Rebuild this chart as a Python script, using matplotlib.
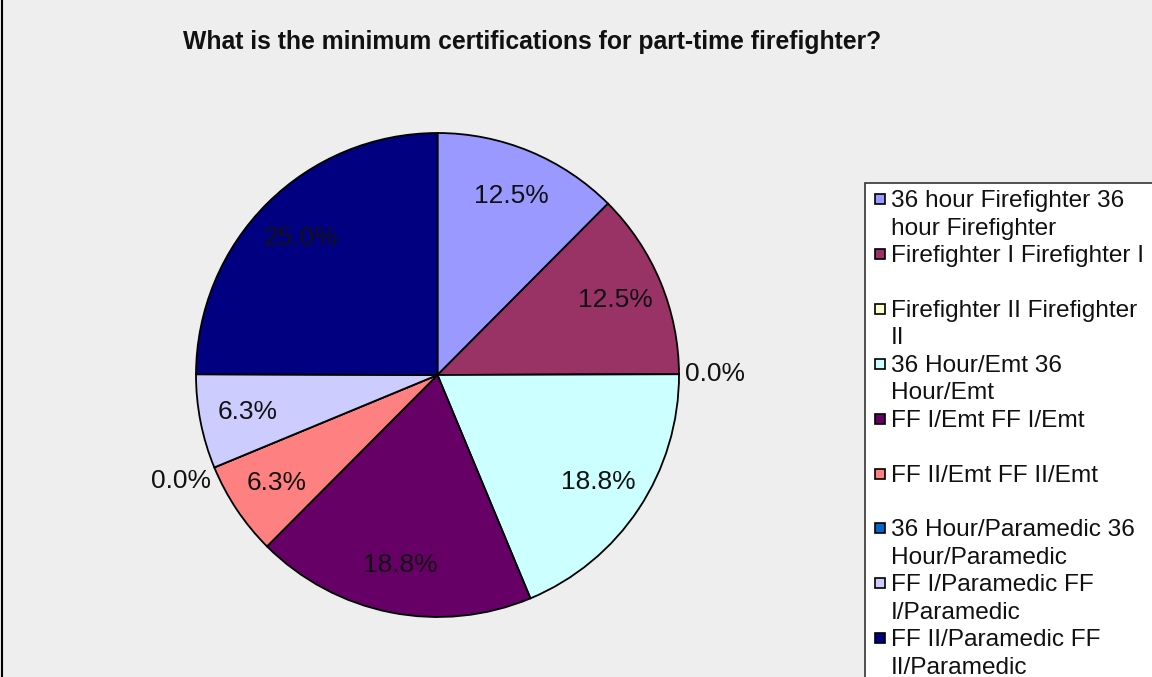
import matplotlib.pyplot as plt
from matplotlib.patches import Rectangle
import numpy as np

plt.rcParams['font.family'] = ['Liberation Sans', 'DejaVu Sans']

title = 'What is the minimum certifications for part-time firefighter?'
labels = ['36 hour Firefighter 36\nhour Firefighter',
          'Firefighter I Firefighter I',
          'Firefighter II Firefighter\nII',
          '36 Hour/Emt 36\nHour/Emt',
          'FF I/Emt FF I/Emt',
          'FF II/Emt FF II/Emt',
          '36 Hour/Paramedic 36\nHour/Paramedic',
          'FF I/Paramedic FF\nI/Paramedic',
          'FF II/Paramedic FF\nII/Paramedic']
percents = [12.5, 12.5, 0.0, 18.8, 18.8, 6.3, 0.0, 6.3, 25.0]
colors = ['#9999FF', '#993366', '#FFFFCC', '#CCFFFF', '#660066',
          '#FF8080', '#0066CC', '#CCCCFF', '#000080']


def px(x, y):
    # pixel position (from top-left) -> figure fraction
    return x / 1152, 1 - y / 677


def main():
    bg = '#EEEEEE'
    fig = plt.figure(figsize=(11.52, 6.77), dpi=100, facecolor=bg)
    # chart border, only the left edge shows in the crop
    fig.add_artist(Rectangle(px(2, 700), 1.2, 1.2, transform=fig.transFigure,
                             fill=False, edgecolor='black', linewidth=1.5))

    ax = fig.add_axes([196 / 1152, (677 - 617) / 677, 483 / 1152, 484 / 677])
    ax.set_facecolor(bg)
    wedges, _ = ax.pie(percents, colors=colors, startangle=90, counterclock=False,
                       radius=1.0, wedgeprops=dict(edgecolor='black', linewidth=1.3))
    ax.set_xlim(-1.0, 1.0)
    ax.set_ylim(-1.0, 1.0)
    ax.set_aspect('auto')
    ax.axis('off')

    for w, p in zip(wedges, percents):
        mid = np.deg2rad((w.theta1 + w.theta2) / 2)
        r = 1.15 if p == 0 else 0.8
        ax.text(r * np.cos(mid), r * np.sin(mid), '{:.1f}%'.format(p),
                ha='center', va='center', fontsize=19, color='#111111')

    fig.text(*px(532, 49), title, ha='center', va='baseline',
             fontsize=17.8, fontweight='bold', color='#111111')

    # legend box, runs off the right and bottom edges like the original
    fig.add_artist(Rectangle(px(865, 700), 0.4, (700 - 183) / 677,
                             transform=fig.transFigure, facecolor='white',
                             edgecolor='#333333', linewidth=1.2))
    pitch = 54.9
    for i, (lab, c) in enumerate(zip(labels, colors)):
        base = 207 + pitch * i
        fig.add_artist(Rectangle(px(875, base - 3), 10 / 1152, 10 / 677,
                                 transform=fig.transFigure, facecolor=c,
                                 edgecolor='black', linewidth=1.2))
        for k, line in enumerate(lab.split('\n')):
            fig.text(*px(891, base + 27.5 * k), line, ha='left', va='baseline',
                     fontsize=17.6, color='#111111')

    plt.savefig('out.png', dpi=100, facecolor=bg)


if __name__ == '__main__':
    main()
